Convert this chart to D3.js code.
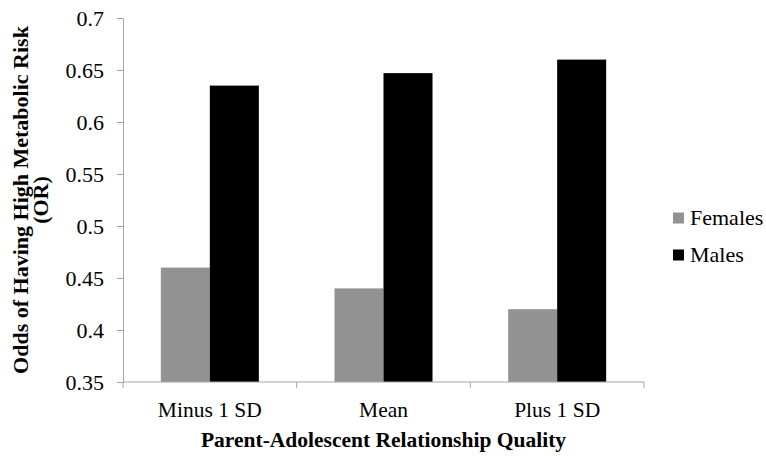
<!DOCTYPE html>
<html>
<head>
<meta charset="utf-8">
<script src="https://cdn.jsdelivr.net/npm/d3@7"></script>
<style>
  body { margin: 0; background: #fff; }
</style>
</head>
<body>
<div id="chart"></div>
<script>
// data
var categories = ["Minus 1 SD", "Mean", "Plus 1 SD"]
var series = ["Females", "Males"]
var females = [0.46, 0.44, 0.42]
var males = [0.635, 0.647, 0.66]
var yTicks = [0.35, 0.4, 0.45, 0.5, 0.55, 0.6, 0.65, 0.7]
var colors = ["#929292", "#000000"]

var serif = "'Liberation Serif', 'Times New Roman', Times, serif"
var width = 766, height = 456
var margin = {top: 18, right: 122, bottom: 74, left: 123}

var svg = d3.select("#chart").append("svg")
    .attr("width", width)
    .attr("height", height)
    .attr("font-family", serif)

var x0 = d3.scaleBand()
    .domain(categories)
    .range([margin.left, width - margin.right])
    .padding(0)

var y = d3.scaleLinear()
    .domain([0.35, 0.7])
    .range([height - margin.bottom, margin.top])

var barW = 49

var rows = categories.map((c, i) => ({cat: c, vals: [females[i], males[i]]}))

// bars
var groups = svg.selectAll("g.grp")
    .data(rows)
    .join("g")
    .attr("class", "grp")

groups.selectAll("rect")
    .data(d => d.vals.map((v, j) => ({cat: d.cat, v: v, j: j})))
    .join("rect")
    .attr("x", d => x0(d.cat) + x0.bandwidth() / 2 - barW + d.j * barW)
    .attr("y", d => y(d.v))
    .attr("width", barW)
    .attr("height", d => y(0.35) - y(d.v))
    .attr("fill", d => colors[d.j])

// y axis
var yAxis = svg.append("g")
    .attr("transform", `translate(${margin.left},0)`)
    .call(d3.axisLeft(y).tickValues(yTicks).tickSize(6).tickPadding(13).tickFormat(d => String(+d.toFixed(2))))
yAxis.attr("font-family", serif).attr("font-size", 22)
yAxis.select(".domain").attr("stroke", "#a6a6a6")
yAxis.selectAll(".tick line").attr("stroke", "#a6a6a6")
yAxis.selectAll("text")
    .attr("fill", "#000")
    .attr("dy", "0.33em")

// x axis, ticks on band edges
var xAxis = svg.append("g")
    .attr("transform", `translate(0,${y(0.35)})`)
xAxis.append("line")
    .attr("x1", margin.left).attr("x2", width - margin.right)
    .attr("stroke", "#a6a6a6")
var edges = categories.map(c => x0(c)).concat([x0(categories[categories.length - 1]) + x0.bandwidth()])
xAxis.selectAll("line.tk")
    .data(edges)
    .join("line")
    .attr("class", "tk")
    .attr("x1", d => d).attr("x2", d => d)
    .attr("y1", 0).attr("y2", 6)
    .attr("stroke", "#a6a6a6")
xAxis.selectAll("text")
    .data(categories)
    .join("text")
    .attr("x", d => x0(d) + x0.bandwidth() / 2)
    .attr("y", 35)
    .attr("text-anchor", "middle")
    .attr("font-size", 21.5)
    .text(d => d)

// axis titles
svg.append("text")
    .attr("x", (margin.left + width - margin.right) / 2)
    .attr("y", 447)
    .attr("text-anchor", "middle")
    .attr("font-size", 21.5)
    .attr("font-weight", "bold")
    .text("Parent-Adolescent Relationship Quality")

var ytitle = svg.append("text")
    .attr("transform", `translate(28,${(y(0.35) + y(0.7)) / 2}) rotate(-90)`)
    .attr("text-anchor", "middle")
    .attr("font-size", 22)
    .attr("font-weight", "bold")
ytitle.append("tspan").attr("x", 0).attr("dy", 0).text("Odds of Having High Metabolic Risk")
ytitle.append("tspan").attr("x", 0).attr("dy", 20).text("(OR)")

// legend
var legend = svg.selectAll("g.leg")
    .data(series)
    .join("g")
    .attr("class", "leg")
    .attr("transform", (d, i) => `translate(673,${218 + i * 37})`)
legend.append("rect")
    .attr("x", 0).attr("y", -5.5)
    .attr("width", 11).attr("height", 11)
    .attr("fill", (d, i) => colors[i])
legend.append("text")
    .attr("x", 17)
    .attr("y", 0)
    .attr("dy", "0.33em")
    .attr("font-size", 22)
    .text(d => d)
</script>
</body>
</html>
